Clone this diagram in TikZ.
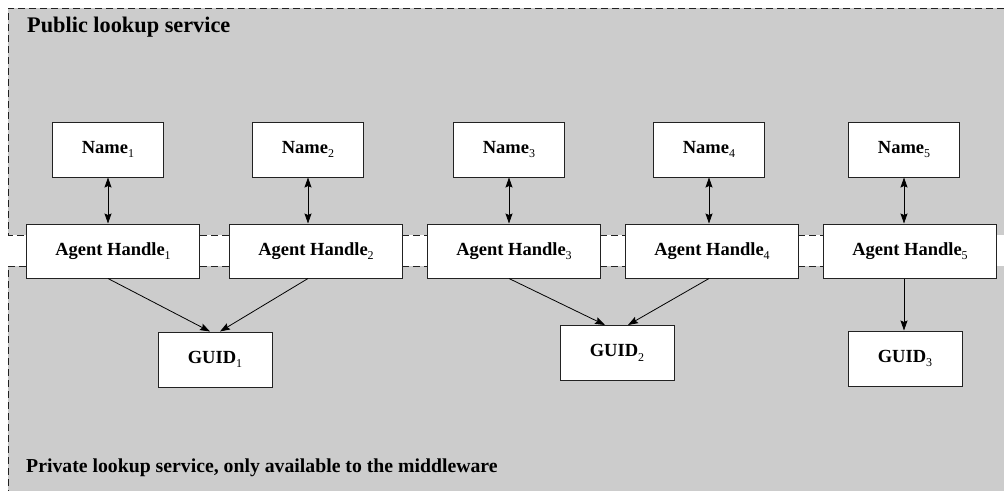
\documentclass[tikz,border=0pt]{standalone}
\usepackage{fontspec}
\setmainfont{Liberation Serif}
\usetikzlibrary{arrows.meta}
\newcommand{\subidx}[1]{\raisebox{-0.25em}{\fontsize{12}{12}\selectfont\mdseries #1}}
\definecolor{bggray}{HTML}{CCCCCC}
\definecolor{linegray}{HTML}{222222}
\tikzset{
  box/.style={draw=linegray, line width=1pt, fill=white, inner sep=0pt, font=\fontsize{18.5}{20}\selectfont\bfseries},
  namebox/.style={box, minimum width=111pt, minimum height=55pt},
  agentbox/.style={box, minimum width=173pt, minimum height=54pt},
  guidbox/.style={box, minimum width=114pt, minimum height=55pt},
  border/.style={draw=linegray, line width=1pt, dash pattern=on 7pt off 4pt},
  tip/.tip={Stealth[length=10pt,width=7pt,inset=1.5pt]},
  conn/.style={draw=black, line width=0.8pt, -tip},
  biconn/.style={draw=black, line width=0.8pt, tip-tip},
  title/.style={anchor=west, inner sep=0pt, font=\bfseries}
}
\begin{document}
\begin{tikzpicture}[x=1pt,y=-1pt]
\useasboundingbox (0,0) rectangle (1004,491);
% backgrounds
\fill[bggray] (8,8) rectangle (1004,235);
\fill[bggray] (8,266) rectangle (1004,491);
\draw[border] (1004,8) -- (8,8) -- (8,235) -- (26,235);
\draw[border] (26,266) -- (8,266) -- (8,491);
\foreach \a/\b in {200/230,402/428,600/626,798/823} {
  \draw[border] (\a,235) -- (\b,235);
  \draw[border] (\a,266) -- (\b,266);
}
% titles
\node[title, font=\fontsize{22.3}{24}\selectfont\bfseries] (pub) at (27,27) {Public lookup service};
\node[title, font=\fontsize{19.75}{22}\selectfont\bfseries] (priv) at (26,468) {Private lookup service, only available to the middleware};
% name boxes
\node[namebox] (n1) at (108,149.5) {Name\subidx{1}};
\node[namebox] (n2) at (308,149.5) {Name\subidx{2}};
\node[namebox] (n3) at (509,149.5) {Name\subidx{3}};
\node[namebox] (n4) at (709,149.5) {Name\subidx{4}};
\node[namebox] (n5) at (904,149.5) {Name\subidx{5}};
% agent handles
\node[agentbox] (a1) at (113,251) {Agent Handle\subidx{1}};
\node[agentbox] (a2) at (316,251) {Agent Handle\subidx{2}};
\node[agentbox] (a3) at (514,251) {Agent Handle\subidx{3}};
\node[agentbox] (a4) at (712,251) {Agent Handle\subidx{4}};
\node[agentbox] (a5) at (910,251) {Agent Handle\subidx{5}};
% guids
\node[guidbox] (g1) at (215,359.5) {GUID\subidx{1}};
\node[guidbox] (g2) at (617,353) {GUID\subidx{2}};
\node[guidbox] (g3) at (905,358.5) {GUID\subidx{3}};
% name <-> agent
\foreach \i in {1,...,5} {
  \draw[biconn] (n\i.south) -- (n\i.south |- a\i.north);
}
% agent -> guid
\coordinate (g1l) at ([xshift=-5pt]g1.north);
\coordinate (g1r) at ([xshift=5pt]g1.north);
\coordinate (g2l) at ([xshift=-12pt]g2.north);
\coordinate (g2r) at ([xshift=11pt]g2.north);
\draw[conn] (n1.south |- a1.south) -- (g1l);
\draw[conn] (n2.south |- a2.south) -- (g1r);
\draw[conn] (n3.south |- a3.south) -- (g2l);
\draw[conn] (n4.south |- a4.south) -- (g2r);
\draw[conn] (n5.south |- a5.south) -- (n5.south |- g3.north);
\end{tikzpicture}
\end{document}
